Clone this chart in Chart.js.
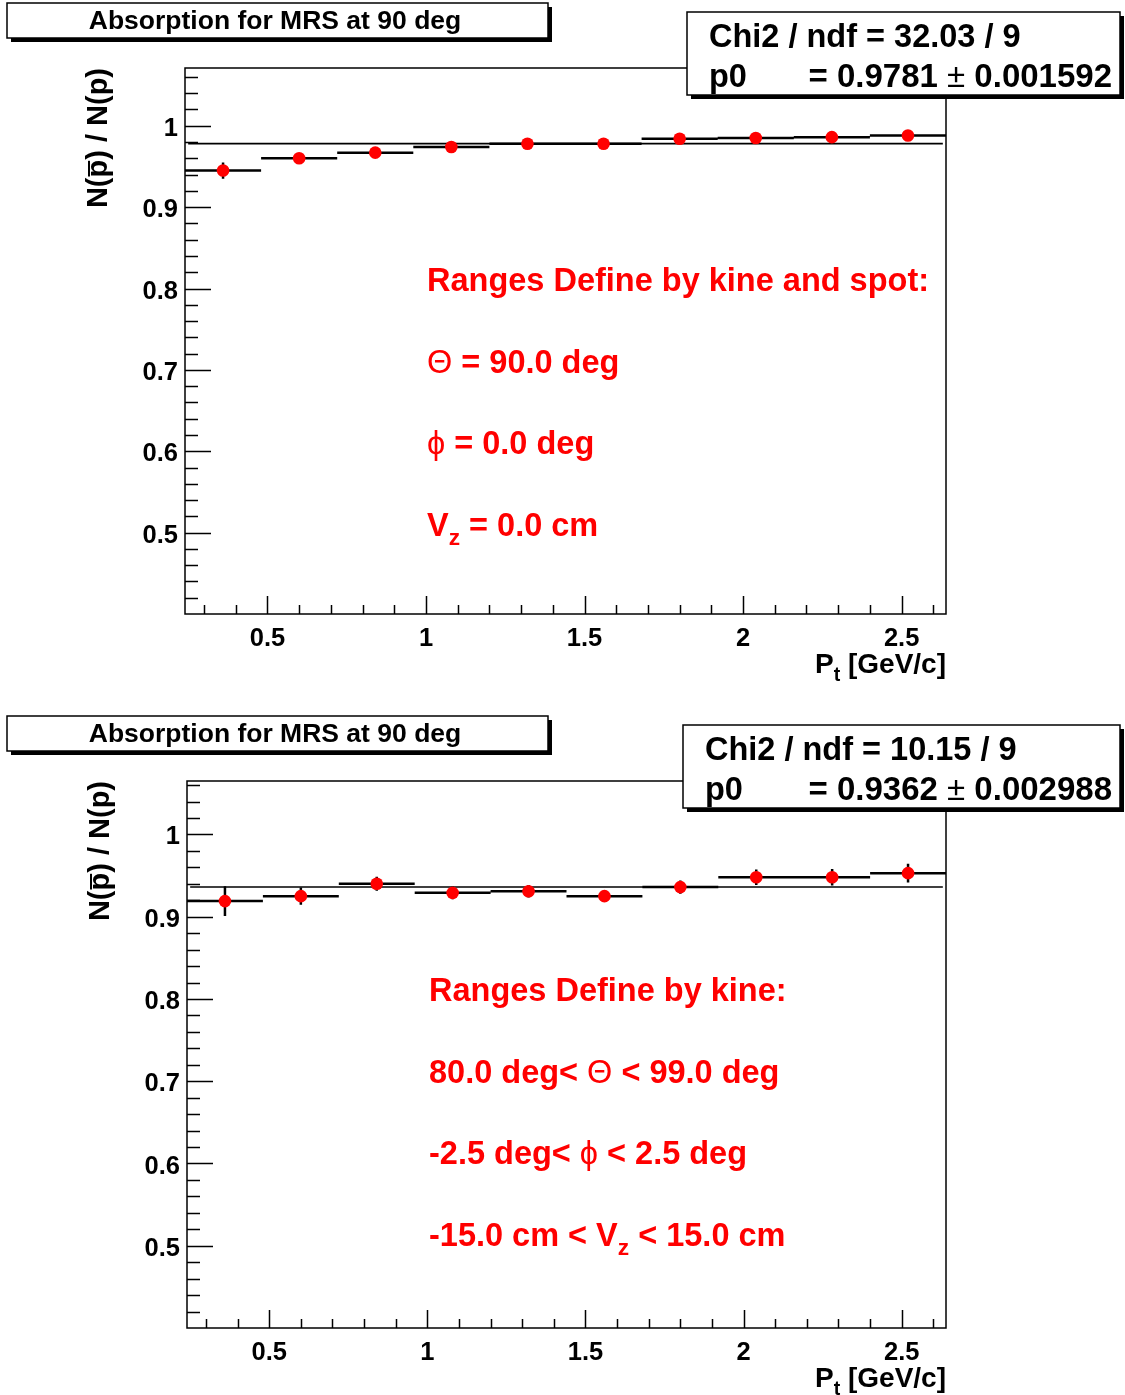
<!DOCTYPE html>
<html>
<head>
<meta charset="utf-8">
<script src="https://cdn.jsdelivr.net/npm/chart.js@4.4.1/dist/chart.umd.min.js"></script>
<style>
  body { margin: 0; background: #fff; }
  #page { position: relative; width: 1125px; height: 1395px; overflow: hidden; background: #fff; }
  canvas { position: absolute; left: 0; }
</style>
</head>
<body>
<div id="page">
  <canvas id="chartTop" width="1125" height="697" style="top:0px"></canvas>
  <canvas id="chartBottom" width="1125" height="682" style="top:713px"></canvas>
</div>
<script>
// pt bins [GeV/c]
const binEdges = [0.24, 0.48, 0.72, 0.96, 1.20, 1.44, 1.68, 1.92, 2.16, 2.40, 2.64];
const binCenters = [0.36, 0.60, 0.84, 1.08, 1.32, 1.56, 1.80, 2.04, 2.28, 2.52];

// top panel: ranges by kine and spot
const ratioSpot = [0.945, 0.960, 0.967, 0.974, 0.978, 0.978, 0.984, 0.985, 0.986, 0.988];
const errSpot   = [0.010, 0.006, 0.005, 0.005, 0.005, 0.005, 0.005, 0.005, 0.005, 0.006];
const fitSpot = 0.9781;

// bottom panel: ranges by kine
const ratioKine = [0.919, 0.925, 0.940, 0.929, 0.931, 0.925, 0.936, 0.948, 0.948, 0.953];
const errKine   = [0.018, 0.0105, 0.0085, 0.0077, 0.0075, 0.007, 0.008, 0.0093, 0.010, 0.0115];
const fitKine = 0.9362;

const fitRange = [0.25, 2.63];
const xTickLabels = [0.5, 1, 1.5, 2, 2.5];
const yTickLabels = [0.5, 0.6, 0.7, 0.8, 0.9, 1];

const FONT = '"Liberation Sans", Arial, Helvetica, sans-serif';

function histSegments(vals) {
    const pts = [];
    vals.forEach((v, i) => {
        pts.push({x: binEdges[i], y: v}, {x: binEdges[i + 1], y: v}, {x: binEdges[i + 1], y: null});
    });
    return pts;
}

function errorSegments(vals, errs) {
    const pts = [];
    vals.forEach((v, i) => {
        pts.push({x: binCenters[i], y: v - errs[i]}, {x: binCenters[i], y: v + errs[i]}, {x: binCenters[i], y: null});
    });
    return pts;
}

// draws text pieces with subscripts / overline, returns width
function drawRich(ctx, parts, x, y, size, color, measureOnly) {
    let cx = x;
    parts.forEach(p => {
        const s = p.sub ? size * 0.7 : size;
        ctx.font = (p.w || 'bold') + ' ' + s + 'px ' + FONT;
        const w = ctx.measureText(p.t).width;
        if (!measureOnly) {
            ctx.fillStyle = color;
            ctx.fillText(p.t, cx, p.sub ? y + size * 0.3 : y);
            if (p.over) {
                ctx.strokeStyle = color;
                ctx.lineWidth = 2;
                ctx.beginPath();
                ctx.moveTo(cx + 1, y - size * 0.62);
                ctx.lineTo(cx + w - 1, y - size * 0.62);
                ctx.stroke();
            }
        }
        cx += w;
    });
    return cx - x;
}

function shadowBox(ctx, x, y, w, h, sh) {
    ctx.fillStyle = '#000';
    ctx.fillRect(x + sh, y + sh, w, h);
    ctx.fillStyle = '#fff';
    ctx.fillRect(x, y, w, h);
    ctx.strokeStyle = '#000';
    ctx.lineWidth = 1.5;
    ctx.strokeRect(x, y, w, h);
}

const rootDeco = {
    id: 'rootDeco',
    afterDraw(chart, args, o) {
        const ctx = chart.ctx;
        const a = chart.chartArea;
        const xs = chart.scales.x, ys = chart.scales.y;
        ctx.save();
        ctx.textBaseline = 'alphabetic';

        // ticks (inside the frame, ROOT style)
        ctx.strokeStyle = '#000';
        ctx.lineWidth = 1.5;
        ctx.beginPath();
        for (let k = 21; k <= 53; k++) {
            const v = k / 50;
            if (v < ys.min || v > ys.max) continue;
            const py = Math.round(ys.getPixelForValue(v)) + 0.5;
            const len = (k % 5 === 0) ? 26 : 13;
            ctx.moveTo(a.left, py);
            ctx.lineTo(a.left + len, py);
        }
        for (let k = 3; k <= 26; k++) {
            const v = k / 10;
            const px = Math.round(xs.getPixelForValue(v)) + 0.5;
            const len = (k % 5 === 0) ? 18 : 9;
            ctx.moveTo(px, a.bottom);
            ctx.lineTo(px, a.bottom - len);
        }
        ctx.stroke();

        // frame
        ctx.lineWidth = 1.5;
        ctx.strokeRect(a.left, a.top, a.right - a.left, a.bottom - a.top);

        // x title: Pt [GeV/c]
        const xt = [{t: 'P'}, {t: 't', sub: true}, {t: ' [GeV/c]'}];
        const wx = drawRich(ctx, xt, 0, 0, 28, '#000', true);
        drawRich(ctx, xt, a.right - wx, a.bottom + 59, 28, '#000');

        // y title: N(pbar) / N(p)
        const yt = [{t: 'N('}, {t: 'p', over: true}, {t: ') / N(p)'}];
        const wy = drawRich(ctx, yt, 0, 0, 29, '#000', true);
        ctx.save();
        ctx.translate(a.left - 78, a.top);
        ctx.rotate(-Math.PI / 2);
        drawRich(ctx, yt, -wy, 0, 29, '#000');
        ctx.restore();

        // histogram title box
        shadowBox(ctx, 7, 3, 541, 35, 4);
        ctx.font = 'bold 26.5px ' + FONT;
        ctx.fillStyle = '#000';
        ctx.textAlign = 'center';
        ctx.fillText(o.title, 275, 29);
        ctx.textAlign = 'left';

        // fit statistics box
        const sb = o.stats;
        shadowBox(ctx, sb.x, sb.y, 1120 - sb.x, 83, 4);
        ctx.font = 'bold 32.5px ' + FONT;
        ctx.fillStyle = '#000';
        ctx.fillText(sb.line1, sb.x + 22, sb.y + 35);
        ctx.fillText('p0', sb.x + 22, sb.y + 75);
        const valParts = [{t: '= ' + sb.p0 + ' '}, {t: '\u00b1', w: 'normal'}, {t: ' ' + sb.p0err}];
        const wv = drawRich(ctx, valParts, 0, 0, 33, '#000', true);
        drawRich(ctx, valParts, 1112 - wv, sb.y + 75, 33, '#000');

        // red cut annotations
        o.notes.forEach((line, i) => {
            drawRich(ctx, line, o.noteX, o.noteY + i * 81.5, 32.5, '#ff0000');
        });
        ctx.restore();
    }
};

function makeChart(id, vals, errs, fit, yMin, yMax, leftW, bottomH, deco) {
    const ctx = document.getElementById(id).getContext('2d');
    return new Chart(ctx, {
        type: 'scatter',
        data: {
            datasets: [
                {   // markers (drawn last = on top)
                    data: vals.map((v, i) => ({x: binCenters[i], y: v})),
                    pointRadius: 6.3,
                    pointBackgroundColor: '#ff0000',
                    pointBorderColor: '#ff0000',
                    pointBorderWidth: 0,
                    showLine: false
                },
                {   // fit p0
                    data: [{x: fitRange[0], y: fit}, {x: fitRange[1], y: fit}],
                    showLine: true, borderColor: '#000', borderWidth: 1.6, pointRadius: 0
                },
                {   // error bars
                    data: errorSegments(vals, errs),
                    showLine: true, spanGaps: false, borderColor: '#000', borderWidth: 2.5, pointRadius: 0
                },
                {   // bin contents
                    data: histSegments(vals),
                    showLine: true, spanGaps: false, borderColor: '#000', borderWidth: 2.5, pointRadius: 0
                }
            ]
        },
        options: {
            responsive: false,
            animation: false,
            devicePixelRatio: 1,
            layout: { padding: { left: 0, right: 1125 - 946, top: 68, bottom: 0 } },
            plugins: { legend: { display: false }, tooltip: { enabled: false }, rootDeco: deco },
            scales: {
                x: {
                    type: 'linear', min: binEdges[0], max: binEdges[binEdges.length - 1],
                    afterBuildTicks: s => { s.ticks = xTickLabels.map(v => ({value: v})); },
                    afterFit: s => { s.height = bottomH; },
                    grid: { display: false, drawTicks: false },
                    border: { display: false },
                    ticks: { color: '#000', font: { family: FONT, size: 25.5, weight: 'bold' }, padding: 10,
                             maxRotation: 0, autoSkip: false, callback: v => String(v) }
                },
                y: {
                    type: 'linear', min: yMin, max: yMax,
                    afterBuildTicks: s => { s.ticks = yTickLabels.map(v => ({value: v})); },
                    afterFit: s => { s.width = leftW; },
                    grid: { display: false, drawTicks: false },
                    border: { display: false },
                    ticks: { color: '#000', font: { family: FONT, size: 25.5, weight: 'bold' }, padding: 7,
                             labelOffset: 3, autoSkip: false, callback: v => String(v) }
                }
            }
        },
        plugins: [rootDeco]
    });
}

makeChart('chartTop', ratioSpot, errSpot, fitSpot, 0.40, 1.071, 185, 697 - 614, {
    title: 'Absorption for MRS at 90 deg',
    stats: { x: 687, y: 12, line1: 'Chi2 / ndf = 32.03 / 9', p0: '0.9781', p0err: '0.001592' },
    noteX: 427, noteY: 291,
    notes: [
        [{t: 'Ranges Define by kine and spot:'}],
        [{t: '\u0398', w: 'normal'}, {t: ' = 90.0 deg'}],
        [{t: '\u03d5', w: 'normal'}, {t: ' = 0.0 deg'}],
        [{t: 'V'}, {t: 'z', sub: true}, {t: ' = 0.0 cm'}]
    ]
});

makeChart('chartBottom', ratioKine, errKine, fitKine, 0.40, 1.065, 187, 682 - 615, {
    title: 'Absorption for MRS at 90 deg',
    stats: { x: 683, y: 12, line1: 'Chi2 / ndf = 10.15 / 9', p0: '0.9362', p0err: '0.002988' },
    noteX: 429, noteY: 288,
    notes: [
        [{t: 'Ranges Define by kine:'}],
        [{t: '80.0 deg< '}, {t: '\u0398', w: 'normal'}, {t: ' < 99.0 deg'}],
        [{t: '-2.5 deg< '}, {t: '\u03d5', w: 'normal'}, {t: ' < 2.5 deg'}],
        [{t: '-15.0 cm < V'}, {t: 'z', sub: true}, {t: ' < 15.0 cm'}]
    ]
});
</script>
</body>
</html>
